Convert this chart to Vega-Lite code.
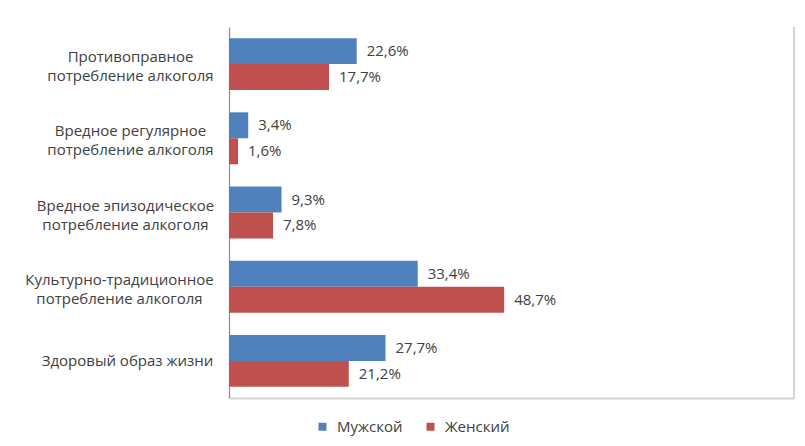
{
  "$schema": "https://vega.github.io/schema/vega-lite/v6.json",
  "autosize": {"type": "none"},
  "width": 565,
  "height": 371,
  "padding": {"left": 229, "top": 27, "right": 11, "bottom": 48},
  "background": "white",
  "config": {
    "locale": {"number": {"decimal": ",", "thousands": " ", "grouping": [3], "currency": ["", " ₽"]}},
    "view": {"stroke": null},
    "font": "Open Sans",
    "text": {"font": "Open Sans"}
  },
  "data": {
    "values": [
      {"category": "Противоправное\nпотребление алкоголя", "sex": "Мужской", "value": 0.226},
      {"category": "Противоправное\nпотребление алкоголя", "sex": "Женский", "value": 0.177},
      {"category": "Вредное регулярное\nпотребление алкоголя", "sex": "Мужской", "value": 0.034},
      {"category": "Вредное регулярное\nпотребление алкоголя", "sex": "Женский", "value": 0.016},
      {"category": "Вредное эпизодическое\nпотребление алкоголя", "sex": "Мужской", "value": 0.093},
      {"category": "Вредное эпизодическое\nпотребление алкоголя", "sex": "Женский", "value": 0.078},
      {"category": "Культурно-традиционное\nпотребление алкоголя", "sex": "Мужской", "value": 0.334},
      {"category": "Культурно-традиционное\nпотребление алкоголя", "sex": "Женский", "value": 0.487},
      {"category": "Здоровый образ жизни", "sex": "Мужской", "value": 0.277},
      {"category": "Здоровый образ жизни", "sex": "Женский", "value": 0.212}
    ]
  },
  "encoding": {
    "y": {
      "field": "category",
      "type": "nominal",
      "sort": null,
      "title": null,
      "scale": {"paddingInner": 0.3, "paddingOuter": 0.15},
      "axis": {
        "ticks": false,
        "domainColor": "#8c8c8c",
        "domainWidth": 1.2,
        "labelExpr": "split(datum.label, '\\n')",
        "labelFont": "Open Sans",
        "labelFontSize": 15,
        "labelColor": "#404040",
        "labelLineHeight": 19,
        "labelAlign": "center",
        "labelPadding": {
          "condition": [
            {"test": "indexof(datum.value, 'Культурно') >= 0", "value": 110},
            {"test": "indexof(datum.value, 'эпизодическое') >= 0", "value": 104},
            {"test": "indexof(datum.value, 'Здоровый') >= 0", "value": 102}
          ],
          "value": 99
        },
        "labelOffset": {
          "condition": {"test": "indexof(datum.value, '\\n') >= 0", "value": -7},
          "value": 0
        },
        "labelLimit": 300
      }
    },
    "yOffset": {
      "field": "sex",
      "type": "nominal",
      "sort": ["Мужской", "Женский"],
      "scale": {"paddingInner": 0, "paddingOuter": 0}
    },
    "x": {
      "field": "value",
      "type": "quantitative",
      "title": null,
      "scale": {"domain": [0, 1], "nice": false},
      "axis": {
        "labels": false,
        "ticks": false,
        "grid": false,
        "domainColor": "#d4d4d4",
        "domainWidth": 2
      }
    }
  },
  "layer": [
    {
      "mark": {"type": "bar"},
      "encoding": {
        "color": {
          "field": "sex",
          "type": "nominal",
          "sort": ["Мужской", "Женский"],
          "scale": {"domain": ["Мужской", "Женский"], "range": ["#4F81BD", "#C0504D"]},
          "legend": {
            "title": null,
            "orient": "none",
            "direction": "horizontal",
            "legendX": 86,
            "legendY": 392,
            "symbolType": "square",
            "symbolSize": 64,
            "symbolStrokeWidth": 0,
            "labelFont": "Open Sans",
            "labelFontSize": 15,
            "labelColor": "#404040",
            "labelOffset": 7,
            "columnPadding": 20
          }
        }
      }
    },
    {
      "mark": {"type": "text", "align": "left", "baseline": "middle", "dx": 10, "fontSize": 15, "color": "#404040", "font": "Open Sans"},
      "encoding": {
        "text": {"field": "value", "type": "quantitative", "format": ".1%"}
      }
    },
    {
      "mark": {"type": "rule", "color": "#d4d4d4", "strokeWidth": 2},
      "encoding": {
        "x": {"datum": 1},
        "y": null,
        "yOffset": null
      }
    }
  ]
}
